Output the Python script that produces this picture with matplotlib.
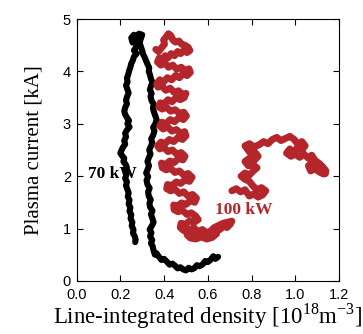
import matplotlib
matplotlib.use("Agg")
from matplotlib import pyplot as plt
import numpy as np

plt.rcParams["mathtext.fontset"] = "custom"
plt.rcParams["mathtext.rm"] = "Liberation Serif"

# 70 kW trace, (density, current) pairs
black_pts = [
    (0.647, 0.46), (0.635, 0.42), (0.625, 0.47), (0.612, 0.40), (0.600, 0.36), (0.588, 0.38),
    (0.575, 0.31), (0.562, 0.28), (0.550, 0.30), (0.538, 0.24), (0.525, 0.22), (0.512, 0.25),
    (0.500, 0.20), (0.487, 0.22), (0.475, 0.26), (0.462, 0.24), (0.450, 0.29), (0.438, 0.33),
    (0.425, 0.31), (0.412, 0.37), (0.400, 0.42), (0.388, 0.40), (0.375, 0.47), (0.365, 0.53),
    (0.358, 0.50), (0.352, 0.58), (0.348, 0.66), (0.340, 0.72), (0.346, 0.78), (0.336, 0.85),
    (0.342, 0.92), (0.334, 0.98), (0.344, 1.05), (0.352, 1.12), (0.346, 1.20), (0.340, 1.27),
    (0.347, 1.34), (0.336, 1.41), (0.333, 1.48), (0.339, 1.55), (0.330, 1.62), (0.327, 1.70),
    (0.334, 1.77), (0.324, 1.84), (0.320, 1.92), (0.327, 1.99), (0.318, 2.06), (0.325, 2.13),
    (0.331, 2.20), (0.324, 2.28), (0.330, 2.35), (0.338, 2.42), (0.332, 2.50), (0.340, 2.57),
    (0.346, 2.64), (0.341, 2.71), (0.350, 2.78), (0.356, 2.86), (0.350, 2.93), (0.360, 3.00),
    (0.366, 3.08), (0.360, 3.15), (0.354, 3.22), (0.349, 3.30), (0.353, 3.37), (0.343, 3.44),
    (0.338, 3.52), (0.343, 3.58), (0.335, 3.65), (0.340, 3.72), (0.347, 3.79), (0.340, 3.86),
    (0.336, 3.93), (0.330, 4.00), (0.332, 4.07), (0.324, 4.14), (0.318, 4.20), (0.311, 4.27),
    (0.304, 4.33), (0.300, 4.40), (0.294, 4.47), (0.289, 4.54), (0.283, 4.60), (0.275, 4.66),
    (0.262, 4.70), (0.250, 4.64), (0.256, 4.55), (0.268, 4.60), (0.285, 4.72), (0.300, 4.70),
    (0.290, 4.58), (0.272, 4.46), (0.262, 4.40), (0.275, 4.34), (0.262, 4.28), (0.258, 4.22),
    (0.250, 4.15), (0.246, 4.08), (0.240, 4.01), (0.236, 3.94), (0.230, 3.87), (0.233, 3.80),
    (0.226, 3.73), (0.232, 3.66), (0.238, 3.59), (0.231, 3.52), (0.226, 3.45), (0.230, 3.38),
    (0.222, 3.31), (0.218, 3.24), (0.222, 3.18), (0.230, 3.12), (0.240, 3.06), (0.232, 3.00),
    (0.242, 2.94), (0.230, 2.88), (0.222, 2.82), (0.226, 2.75), (0.218, 2.68), (0.222, 2.61),
    (0.212, 2.55), (0.206, 2.50), (0.200, 2.44), (0.208, 2.39), (0.218, 2.34), (0.214, 2.28),
    (0.225, 2.22), (0.230, 2.16), (0.222, 2.10), (0.228, 2.03), (0.222, 1.96), (0.230, 1.89),
    (0.226, 1.82), (0.232, 1.75), (0.238, 1.68), (0.234, 1.61), (0.242, 1.54), (0.238, 1.47),
    (0.246, 1.40), (0.242, 1.33), (0.250, 1.26), (0.247, 1.19), (0.255, 1.12), (0.252, 1.05),
    (0.260, 0.98), (0.258, 0.91), (0.266, 0.85), (0.270, 0.79), (0.268, 0.74),
]

# 100 kW trace, first part (ramp-down through the minimum)
red_pts_a = [
    (0.362, 4.42), (0.375, 4.38), (0.390, 4.46), (0.402, 4.52), (0.398, 4.60), (0.410, 4.66),
    (0.420, 4.72), (0.432, 4.68), (0.440, 4.60), (0.452, 4.56), (0.468, 4.58), (0.480, 4.52),
    (0.495, 4.50), (0.510, 4.46), (0.518, 4.40), (0.505, 4.36), (0.490, 4.40), (0.476, 4.34),
    (0.462, 4.38), (0.448, 4.30), (0.432, 4.34), (0.418, 4.26), (0.405, 4.30), (0.392, 4.22),
    (0.378, 4.26), (0.370, 4.18), (0.385, 4.12), (0.405, 4.16), (0.420, 4.08), (0.440, 4.12),
    (0.458, 4.04), (0.478, 4.08), (0.496, 4.02), (0.514, 4.05), (0.520, 3.98), (0.505, 3.92),
    (0.488, 3.96), (0.470, 3.88), (0.452, 3.92), (0.435, 3.84), (0.415, 3.88), (0.398, 3.80),
    (0.380, 3.84), (0.366, 3.76), (0.372, 3.70), (0.390, 3.72), (0.408, 3.64), (0.428, 3.68),
    (0.446, 3.60), (0.466, 3.63), (0.484, 3.56), (0.500, 3.58), (0.492, 3.50), (0.474, 3.46),
    (0.455, 3.50), (0.436, 3.42), (0.418, 3.46), (0.400, 3.38), (0.382, 3.40), (0.376, 3.32),
    (0.392, 3.28), (0.410, 3.32), (0.430, 3.24), (0.450, 3.27), (0.470, 3.20), (0.490, 3.22),
    (0.502, 3.15), (0.488, 3.08), (0.468, 3.12), (0.448, 3.04), (0.428, 3.08), (0.408, 3.00),
    (0.390, 3.03), (0.380, 2.96), (0.396, 2.90), (0.416, 2.94), (0.436, 2.86), (0.456, 2.89),
    (0.476, 2.82), (0.494, 2.85), (0.500, 2.77), (0.484, 2.70), (0.464, 2.74), (0.444, 2.66),
    (0.424, 2.70), (0.404, 2.62), (0.386, 2.65), (0.370, 2.58), (0.380, 2.52), (0.398, 2.55),
    (0.418, 2.47), (0.438, 2.50), (0.458, 2.42), (0.478, 2.45), (0.496, 2.38), (0.486, 2.31),
    (0.466, 2.34), (0.446, 2.26), (0.426, 2.29), (0.406, 2.22), (0.388, 2.25), (0.392, 2.16),
    (0.410, 2.12), (0.430, 2.15), (0.450, 2.07), (0.470, 2.10), (0.490, 2.02), (0.510, 2.05),
    (0.528, 1.98), (0.516, 1.90), (0.496, 1.93), (0.476, 1.86), (0.456, 1.89), (0.436, 1.82),
    (0.416, 1.84), (0.412, 1.76), (0.430, 1.72), (0.450, 1.75), (0.470, 1.67), (0.490, 1.70),
    (0.510, 1.62), (0.530, 1.65), (0.548, 1.58), (0.540, 1.50), (0.520, 1.53), (0.500, 1.46),
    (0.480, 1.49), (0.460, 1.42), (0.444, 1.45), (0.446, 1.36), (0.464, 1.32), (0.484, 1.35),
    (0.504, 1.27), (0.524, 1.30), (0.544, 1.24), (0.556, 1.17), (0.538, 1.12), (0.518, 1.15),
    (0.498, 1.08), (0.478, 1.10), (0.474, 1.02), (0.490, 0.96), (0.506, 0.99), (0.520, 0.92),
    (0.540, 0.95), (0.556, 0.88), (0.576, 0.91), (0.596, 0.84), (0.616, 0.88), (0.628, 0.96),
    (0.640, 1.02), (0.655, 0.98), (0.670, 1.04), (0.688, 1.02), (0.702, 1.08), (0.710, 1.14),
    (0.690, 1.12), (0.670, 1.10), (0.650, 1.06), (0.630, 1.02), (0.612, 0.95), (0.595, 0.92),
    (0.575, 0.98), (0.555, 0.94), (0.535, 1.02), (0.515, 0.96), (0.505, 0.88), (0.520, 0.82),
    (0.545, 0.80), (0.570, 0.84), (0.595, 0.80), (0.620, 0.83), (0.640, 0.90),
]

# 100 kW trace, second part (after the gap)
red_pts_b = [
    (0.710, 1.72), (0.730, 1.76), (0.750, 1.70), (0.770, 1.74), (0.790, 1.62), (0.810, 1.66),
    (0.830, 1.60), (0.850, 1.64), (0.865, 1.72), (0.845, 1.78), (0.825, 1.74), (0.805, 1.82),
    (0.790, 1.90), (0.770, 1.94), (0.752, 2.00), (0.770, 2.06), (0.790, 2.02), (0.808, 2.10),
    (0.825, 2.16), (0.805, 2.22), (0.785, 2.20), (0.770, 2.28), (0.790, 2.34), (0.812, 2.30),
    (0.830, 2.38), (0.815, 2.46), (0.795, 2.44), (0.780, 2.52), (0.770, 2.58), (0.790, 2.62),
    (0.812, 2.56), (0.835, 2.60), (0.855, 2.66), (0.875, 2.62), (0.895, 2.70), (0.915, 2.74),
    (0.935, 2.68), (0.955, 2.72), (0.975, 2.76), (0.995, 2.70), (1.010, 2.62), (1.030, 2.66),
    (1.045, 2.58), (1.030, 2.50), (1.010, 2.54), (0.990, 2.46), (0.975, 2.52), (0.960, 2.44),
    (0.980, 2.38), (1.000, 2.42), (1.020, 2.36), (1.040, 2.42), (1.060, 2.34), (1.075, 2.40),
    (1.090, 2.30), (1.110, 2.24), (1.125, 2.18), (1.140, 2.10), (1.130, 2.04), (1.110, 2.08),
    (1.090, 2.14), (1.070, 2.10), (1.060, 2.20), (1.080, 2.26), (1.100, 2.20), (1.120, 2.12),
    (1.138, 2.05),
]

xticks = [0.0, 0.2, 0.4, 0.6, 0.8, 1.0, 1.2]
yticks = [0, 1, 2, 3, 4, 5]
red = "#b5262c"

fig = plt.figure(figsize=(3.63, 3.34), dpi=100)
ax = fig.add_axes([0.211, 0.159, 0.723, 0.784])

bx, by = np.array(black_pts).T
ax.plot(bx, by, color="black", lw=4.4, solid_joinstyle="round", solid_capstyle="round")
for pts in (red_pts_a, red_pts_b):
    rx, ry = np.array(pts).T
    ax.plot(rx, ry, color=red, lw=5.0, solid_joinstyle="round", solid_capstyle="round")

ax.text(0.053, 2.05, "70 kW", color="black", fontsize=12.5, fontweight="bold",
        family="Liberation Serif", va="center")
ax.text(0.632, 1.35, "100 kW", color=red, fontsize=12.5, fontweight="bold",
        family="Liberation Serif", va="center")

ax.set_xlim(0, 1.2)
ax.set_ylim(0, 5)
ax.set_xticks(xticks)
ax.set_xticklabels([f"{t:.1f}" for t in xticks])
ax.set_yticks(yticks)
ax.tick_params(direction="in", top=True, right=True, length=4, width=0.8,
               labelsize=10.5)
ax.tick_params(axis="x", pad=5)
ax.tick_params(axis="y", pad=4)
for lab in ax.get_xticklabels() + ax.get_yticklabels():
    lab.set_family("Liberation Sans")
for s in ax.spines.values():
    s.set_linewidth(0.8)

ax.set_xlabel("Line-integrated density [10$^{18}$m$^{-3}$]", family="Liberation Serif",
              fontsize=16.5, labelpad=0)
ax.set_ylabel("Plasma current [kA]", family="Liberation Serif", fontsize=15, labelpad=14)

fig.savefig("out.png", dpi=100)
